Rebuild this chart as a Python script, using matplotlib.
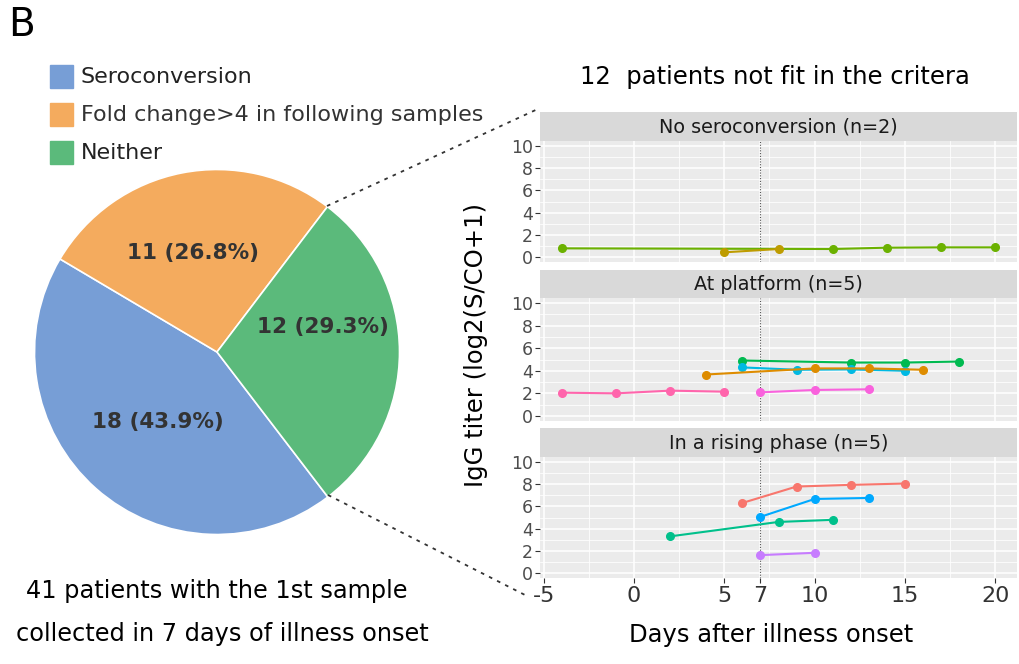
import matplotlib.pyplot as plt
from matplotlib.lines import Line2D
from matplotlib.patches import Rectangle

plt.rcParams["font.family"] = ["DejaVu Sans"]
plt.rcParams["axes.unicode_minus"] = False

# pie data
pie_labels = ["Seroconversion", "Fold change>4 in following samples", "Neither"]
pie_counts = [18, 11, 12]
pie_colors = ["#779ED6", "#F4AB5E", "#5BBA7B"]

# facet panels
panel_titles = ["No seroconversion (n=2)", "At platform (n=5)", "In a rising phase (n=5)"]

no_sero_days = [[-4, 11, 14, 17, 20], [5, 8]]
no_sero_titer = [[0.78, 0.72, 0.84, 0.87, 0.87], [0.42, 0.72]]
no_sero_colors = ["#6BB100", "#BE9C00"]

platform_days = [[-4, -1, 2, 5], [7, 10, 13], [6, 12, 15, 18], [6, 9, 12, 15], [4, 10, 13, 16]]
platform_titer = [[2.06, 2.0, 2.24, 2.15], [2.09, 2.3, 2.36],
                  [4.91, 4.73, 4.73, 4.82], [4.3, 4.09, 4.12, 4.0],
                  [3.67, 4.21, 4.21, 4.09]]
platform_colors = ["#FF65AC", "#F962DD", "#00BA50", "#00B9E3", "#DE8C00"]

rising_days = [[6, 9, 12, 15], [7, 10, 13], [2, 8, 11], [7, 10]]
rising_titer = [[6.31, 7.79, 7.94, 8.06], [5.06, 6.67, 6.76], [3.3, 4.6, 4.79], [1.61, 1.82]]
rising_colors = ["#F8766D", "#00A9FF", "#00C08B", "#C77CFF"]

x_ticks = [-5, 0, 5, 7, 10, 15, 20]
y_ticks = [0, 2, 4, 6, 8, 10]

W, H = 1019, 664
fig = plt.figure(figsize=(W / 100, H / 100), dpi=100)


def px_axes(x0, y0, w, h):
    # pixel box measured from top-left of the image
    return fig.add_axes([x0 / W, 1 - (y0 + h) / H, w / W, h / H])


def fx(x):
    return x / W


def fy(y):
    return 1 - y / H


# ---- pie ----
ax_pie = px_axes(34.5, 169.5, 365, 365)
wedges, _ = ax_pie.pie(pie_counts, colors=pie_colors, startangle=-52.6,
                       counterclock=False,
                       wedgeprops=dict(edgecolor="white", linewidth=1.2))
ax_pie.set_xlim(-1, 1)
ax_pie.set_ylim(-1, 1)
ax_pie.set_aspect("equal")
total = sum(pie_counts)
label_pos = [(158, 422), (193, 253), (323, 327)]
for (lx, ly), c in zip(label_pos, pie_counts):
    fig.text(fx(lx), fy(ly), f"{c} ({100 * c / total:.1f}%)", ha="center",
             va="center", fontsize=15.5, fontweight="bold", color="#333333")

# legend
for i, (lab, col) in enumerate(zip(pie_labels, pie_colors)):
    yy = 77 + i * 38
    fig.patches.append(Rectangle((fx(50), fy(yy + 11)), 23 / W, 23 / H,
                                 transform=fig.transFigure, color=col))
    fig.text(fx(81), fy(yy), lab, ha="left", va="center", fontsize=16,
             color="#222222" if i != 1 else "#333333")

fig.text(fx(8), fy(25), "B", ha="left", va="center", fontsize=28)
fig.text(fx(217), fy(591), "41 patients with the 1st sample", ha="center",
         va="center", fontsize=17.3)
fig.text(fx(222), fy(634), "collected in 7 days of illness onset", ha="center",
         va="center", fontsize=17.3)
fig.text(fx(775), fy(77), "12  patients not fit in the critera", ha="center",
         va="center", fontsize=17.5)

# dotted connectors
fig.lines.append(Line2D([fx(327), fx(540)], [fy(206), fy(108)],
                        transform=fig.transFigure, color="#333333",
                        linestyle=(0, (2, 3)), linewidth=1.3))
fig.lines.append(Line2D([fx(328), fx(527)], [fy(495), fy(596)],
                        transform=fig.transFigure, color="#333333",
                        linestyle=(0, (2, 3)), linewidth=1.3))

# ---- facet panels ----
panel_boxes = [(112, 141, 262), (270, 298, 421), (428, 457, 578)]
panel_data = [(no_sero_days, no_sero_titer, no_sero_colors),
              (platform_days, platform_titer, platform_colors),
              (rising_days, rising_titer, rising_colors)]
px0, px1 = 540, 1017

for k, ((s0, p0, p1), (days, titers, cols)) in enumerate(zip(panel_boxes, panel_data)):
    # strip
    ax_s = px_axes(px0, s0, px1 - px0, p0 - s0)
    ax_s.set_facecolor("#D9D9D9")
    ax_s.set_xticks([])
    ax_s.set_yticks([])
    for sp in ax_s.spines.values():
        sp.set_visible(False)
    ax_s.text(0.5, 0.47, panel_titles[k], ha="center", va="center",
              fontsize=13.8, color="#1A1A1A", transform=ax_s.transAxes)

    ax = px_axes(px0, p0, px1 - px0, p1 - p0)
    ax.set_facecolor("#EBEBEB")
    for sp in ax.spines.values():
        sp.set_visible(False)
    ax.set_xlim(-5.2, 21.2)
    ax.set_ylim(-0.45, 10.45)
    ax.set_yticks(y_ticks)
    ax.set_yticks([1, 3, 5, 7, 9], minor=True)
    ax.set_xticks(x_ticks)
    ax.set_xticks([-2.5, 2.5, 7.5, 12.5, 17.5], minor=True)
    ax.grid(which="major", color="white", linewidth=1.1)
    ax.grid(which="minor", color="white", linewidth=0.55)
    ax.set_axisbelow(True)
    ax.tick_params(which="minor", length=0)
    ax.tick_params(which="major", length=3.5, color="#333333",
                   labelcolor="#4D4D4D", labelsize=12.5, pad=1.5)
    if k < 2:
        ax.tick_params(axis="x", labelbottom=False, length=0)
    else:
        ax.tick_params(axis="x", labelsize=16, labelcolor="#333333", pad=2)
    ax.axvline(7, color="#555555", linestyle=(0, (1, 1.5)), linewidth=0.8, zorder=2)
    for d, t, c in zip(days, titers, cols):
        ax.plot(d, t, color=c, linewidth=1.5, marker="o", markersize=5.5, zorder=3)

fig.text(fx(476), fy(345), "IgG titer (log2(S/CO+1)", rotation=90, ha="center",
         va="center", fontsize=17.5)
fig.text(fx(771), fy(635), "Days after illness onset", ha="center",
         va="center", fontsize=17.5)

fig.savefig("out.png", dpi=100)
